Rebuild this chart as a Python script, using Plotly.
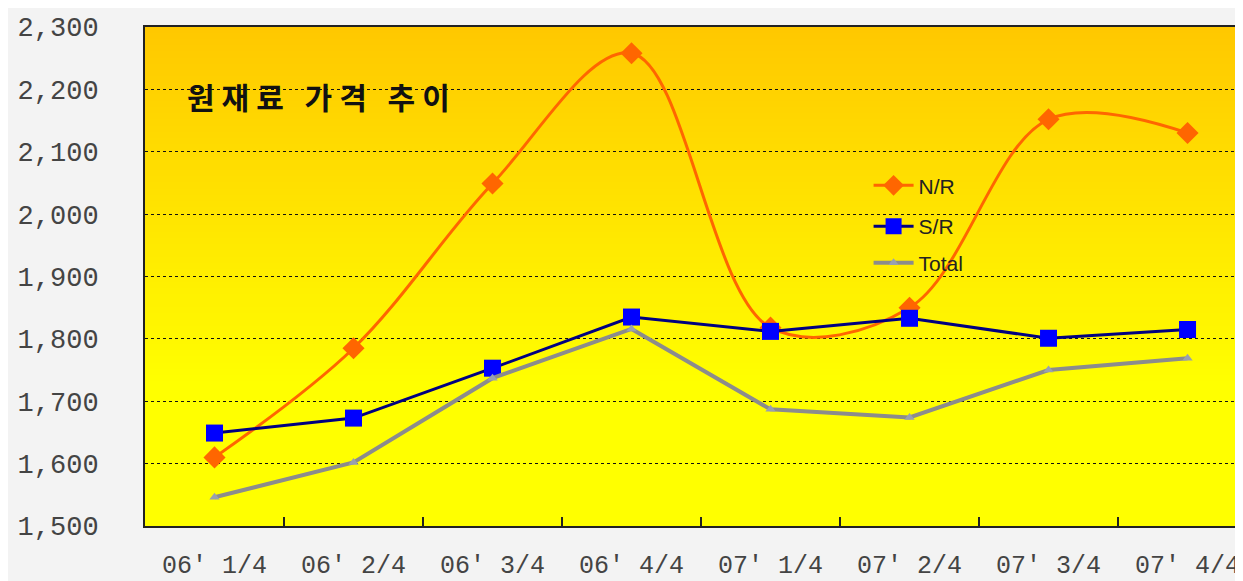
import plotly.graph_objects as go

categories = ["06' 1/4", "06' 2/4", "06' 3/4", "06' 4/4", "07' 1/4", "07' 2/4", "07' 3/4", "07' 4/4"]
nr = [1610, 1785, 2049, 2258, 1818, 1850, 2152, 2130]
sr = [1649, 1673, 1753, 1835, 1812, 1833, 1801, 1815]
total = [1546, 1602, 1737, 1816, 1687, 1674, 1750, 1769]
y_ticks = [1500, 1600, 1700, 1800, 1900, 2000, 2100, 2200, 2300]
y_tick_text = ["1,500", "1,600", "1,700", "1,800", "1,900", "2,000", "2,100", "2,200", "2,300"]
title_text = "원재료 가격 추이"

fig = go.Figure()

fig.add_trace(go.Scatter(
    x=categories, y=nr, name="N/R", mode="lines+markers",
    line=dict(color="#FF6600", width=3, shape="spline", smoothing=1.0),
    marker=dict(symbol="diamond", size=17, color="#FF6600"),
    legend="legend", showlegend=True,
))
fig.add_trace(go.Scatter(
    x=categories, y=sr, name="S/R", mode="lines+markers",
    line=dict(color="#000080", width=3),
    marker=dict(symbol="square", size=17, color="#0000FF"),
    legend="legend2", showlegend=True,
))
fig.add_trace(go.Scatter(
    x=categories, y=total, name="Total", mode="lines+markers",
    line=dict(color="#8C8C8C", width=4),
    marker=dict(symbol="triangle-up", size=9, color="#99A0B0"),
    legend="legend3", showlegend=True,
))

# gradient background bands for the plot area
shapes = []
n = 80
for i in range(n):
    t0 = i / n
    t1 = (i + 1) / n
    tm = (t0 + t1) / 2  # 0 = top
    f = min(tm / 0.72, 1.0)
    g = int(round(200 + (255 - 200) * f))
    shapes.append(dict(
        type="rect", xref="paper", yref="paper",
        x0=0, x1=1, y0=1 - t1, y1=1 - t0 + 0.002,
        fillcolor=f"rgb(255,{g},0)", line=dict(width=0), layer="below",
    ))

legend_font = dict(family="Liberation Sans, Arial, sans-serif", size=21, color="#222222")
leg_common = dict(bgcolor="rgba(0,0,0,0)", font=legend_font, xanchor="left", yanchor="middle",
                  itemwidth=40, borderwidth=0)

fig.update_layout(
    width=1235, height=573,
    margin=dict(l=137, r=0, t=19, b=55, autoexpand=False),
    paper_bgcolor="#F3F3F3",
    plot_bgcolor="rgba(0,0,0,0)",
    showlegend=True,
    shapes=shapes,
    legend=dict(x=0.659, y=0.682, **leg_common),
    legend2=dict(x=0.659, y=0.6, **leg_common),
    legend3=dict(x=0.659, y=0.527, **leg_common),
    annotations=[dict(
        text=f"<b><span style='letter-spacing:7px'>{title_text}</span></b>", xref="paper", yref="paper",
        x=0.036, y=0.861, xanchor="left", yanchor="middle", showarrow=False,
        font=dict(family="Noto Sans CJK KR", size=30, color="#111111"),
    )],
)

fig.update_xaxes(
    type="category", range=[-0.5, 7.399], automargin=False,
    showline=True, linecolor="#222222", linewidth=2, mirror=True,
    ticks="inside", tickson="boundaries", ticklen=9, tickcolor="#222222", tickwidth=2,
    showgrid=False, zeroline=False,
    tickfont=dict(family="Liberation Mono, DejaVu Sans Mono, monospace", size=25, color="#444444"),
    ticklabelstandoff=15,
)
fig.update_yaxes(
    range=[1500, 2300], tickvals=y_ticks, ticktext=y_tick_text, automargin=False,
    showline=True, linecolor="#222222", linewidth=2,
    ticks="", showgrid=True, gridcolor="#111111", gridwidth=1, griddash="dot",
    zeroline=False,
    tickfont=dict(family="Liberation Mono, DejaVu Sans Mono, monospace", size=27, color="#444444"),
    ticklabelstandoff=39,
)

fig.write_html("out.html")
